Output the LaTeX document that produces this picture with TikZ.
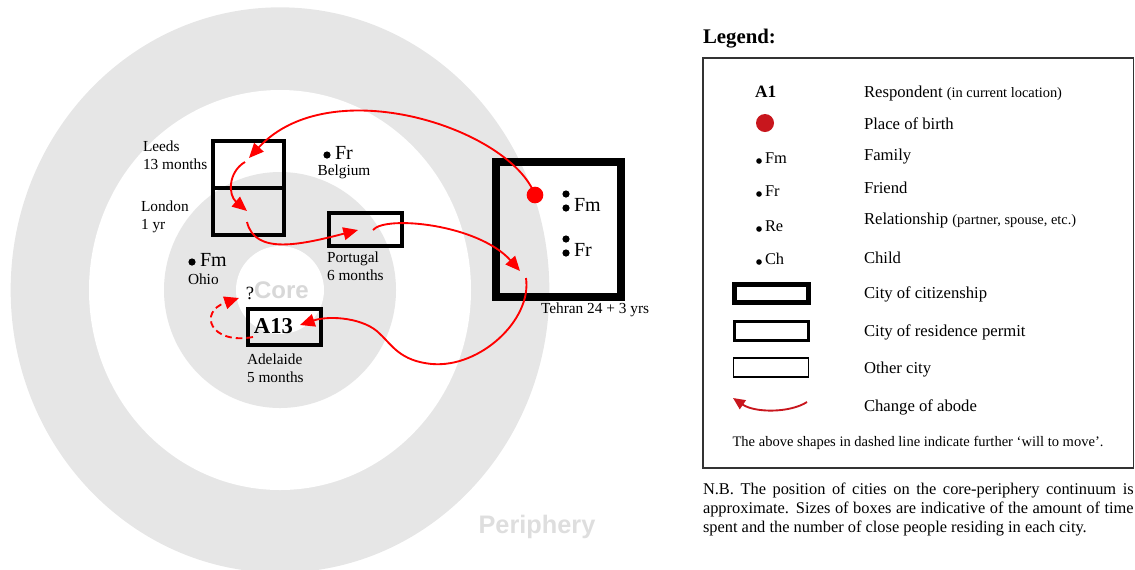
\documentclass[tikz,border=0pt]{standalone}
\usepackage{fontspec}
\setmainfont{Liberation Serif}
\newfontfamily\sansfam{Liberation Sans}
\usetikzlibrary{arrows.meta}
\definecolor{ringgray}{HTML}{E6E6E6}
\definecolor{coregray}{HTML}{D8D8D8}
\definecolor{perigray}{HTML}{DEDEDE}
\definecolor{legred}{HTML}{C8161D}
\definecolor{legframe}{HTML}{333333}
\newcommand{\fs}[2]{\fontsize{#1pt}{#2pt}\selectfont}
\begin{document}
\begin{tikzpicture}[x=0.75pt,y=-0.75pt,
  every node/.style={inner sep=0pt,outer sep=0pt},
  lbl/.style={font=\fs{11.5}{13.4},align=left,anchor=west},
  big/.style={font=\fs{15}{15},anchor=west},
  pdot/.style={circle,fill=black,minimum size=5.4pt},
  resbox/.style={draw=black,line width=2.7pt},
  citbox/.style={draw=black,line width=5.4pt},
  mv/.style={draw=red,line width=1.4pt,-{Triangle[length=11pt,width=9.5pt]}},
  legtxt/.style={font=\fs{12.5}{14},anchor=base west},
  legsym/.style={font=\fs{12.3}{13},anchor=base west},
  ldot/.style={circle,fill=black,minimum size=4.2pt}]
\useasboundingbox (0,0) rectangle (1135,569);
\clip (0,0) rectangle (1135,569);
% rings
\fill[ringgray] (280,290) ellipse [x radius=202pt,y radius=212pt];
\fill[white] (280,290) ellipse [x radius=143.25pt,y radius=150pt];
\fill[ringgray] (280,290) ellipse [x radius=87pt,y radius=88.5pt];
\fill[white] (280,290) ellipse [x radius=33pt,y radius=33pt];
\node[font=\sansfam\bfseries\fs{18}{18},text=coregray] (core) at (281.5,290) {Core};
\node[font=\sansfam\bfseries\fs{19}{19},text=perigray] (peri) at (537,527) {Periphery};
% city boxes
\node[resbox,minimum width=53.25pt,minimum height=35.25pt] (leeds) at (248.5,164.5) {};
\node[resbox,minimum width=53.25pt,minimum height=35.25pt] (london) at (248.5,211.5) {};
\node[resbox,minimum width=54.75pt,minimum height=24.75pt] (portugal) at (365.5,229.5) {};
\node[resbox,minimum width=54.75pt,minimum height=27pt] (adelaide) at (284.5,327) {};
\node[citbox,minimum width=93.75pt,minimum height=101.25pt] (tehran) at (558.5,229.5) {};
% labels
\node[lbl] (leedslbl) at (143,155) {Leeds\\13 months};
\node[lbl] (londonlbl) at (141,217) {London\\1 yr};
\node[lbl] (portlbl) at (327,266) {Portugal\\6 months};
\node[lbl] (adellbl) at (247,368) {Adelaide\\5 months};
\node[lbl] (tehlbl) at (541,310) {Tehran 24 + 3 yrs};
\node[font=\bfseries\fs{17}{17}] (a13) at (273.5,326) {A13};
\node[font=\fs{14}{14}] (qm) at (250,293) {?};
% people
\node[pdot] (befr) at (327,155) {};
\node[big] (befrt) at (335,153) {Fr};
\node[font=\fs{11.5}{12}] (belg) at (344,172) {Belgium};
\node[pdot] (ohfm) at (192,262) {};
\node[big] (ohfmt) at (200,260) {Fm};
\node[lbl] (ohio) at (188,279) {Ohio};
\node[pdot] (tfm1) at (566,194) {};
\node[pdot] (tfm2) at (566,208) {};
\node[big] (tfmt) at (574,205) {Fm};
\node[pdot] (tfr1) at (566,239) {};
\node[pdot] (tfr2) at (566,253) {};
\node[big] (tfrt) at (574,250) {Fr};
\node[circle,fill=red,minimum size=12.5pt] (birth) at (535,195) {};
% moves
\coordinate (leedsin) at (249,158);
\coordinate (leedsout) at (245,162);
\coordinate (londonin) at (247,211);
\coordinate (londonout) at (247,222);
\coordinate (portin) at (358,230);
\coordinate (portout) at (373,230);
\coordinate (tehin) at (520,271);
\coordinate (tehout) at (526,278);
\coordinate (adelin) at (300,325);
\coordinate (adelout) at (253,337);
\coordinate (qin) at (239,298);
\draw[mv] (birth.center) .. controls (510,128) and (330,70) .. (leedsin);
\draw[mv] (leedsout) .. controls (228,172) and (228,195) .. (londonin);
\draw[mv] (londonout) .. controls (255,255) and (300,245) .. (portin);
\draw[mv] (portout) .. controls (385,215) and (478,224) .. (tehin);
\draw[mv] (tehout) .. controls (532,320) and (480,368) .. (432,364)
   .. controls (400,361) and (392,345) .. (380,334)
   .. controls (365,318) and (330,315) .. (adelin);
\draw[mv,dashed,dash pattern=on 5pt off 3pt] (adelout) .. controls (210,345) and (198,312) .. (qin);
% legend
\node[font=\bfseries\fs{15.6}{16},anchor=west] (legtitle) at (703,39) {Legend:};
\node[draw=legframe,line width=1.4pt,minimum width=322.9pt,minimum height=307.5pt] (legbox) at (918.25,263) {};
\node[font=\bfseries\fs{13}{14},anchor=base west] (la1) at (755,97.5) {A1};
\node[legtxt] (lresp) at (864,97.5) {Respondent {\fs{10.8}{12}(in current location)}};
\node[circle,fill=legred,minimum size=13.5pt] (lbirth) at (765,123) {};
\node[legtxt] (lbirtht) at (864,129) {Place of birth};
\node[ldot] (lfmd) at (759,161) {};
\node[legsym] (lfm) at (765,163) {Fm};
\node[legtxt] (lfam) at (864,160) {Family};
\node[ldot] (lfrd) at (759,194) {};
\node[legsym] (lfr) at (765,196) {Fr};
\node[legtxt] (lfri) at (864,193) {Friend};
\node[ldot] (lred) at (759,229) {};
\node[legsym] (lre) at (765,231) {Re};
\node[legtxt] (lrel) at (864,224) {Relationship {\fs{10.8}{12}(partner, spouse, etc.)}};
\node[ldot] (lchd) at (759,262) {};
\node[legsym] (lch) at (765,264) {Ch};
\node[legtxt] (lchi) at (864,263) {Child};
\node[draw=black,line width=3.75pt,minimum width=55.5pt,minimum height=13.5pt] (lcit) at (771.5,293.5) {};
\node[legtxt] (lcitt) at (864,298) {City of citizenship};
\node[draw=black,line width=2.25pt,minimum width=55.5pt,minimum height=14.25pt] (lres) at (771.5,331) {};
\node[legtxt] (lrest) at (864,336) {City of residence permit};
\node[draw=black,line width=1.1pt,minimum width=56.25pt,minimum height=14.25pt] (loth) at (771,367.5) {};
\node[legtxt] (lotht) at (864,373) {Other city};
\coordinate (labs) at (807,402);
\coordinate (labe) at (733,398);
\draw[legred,line width=1.4pt,-{Triangle[length=9pt,width=8pt]}] (labs) .. controls (790,413) and (755,413) .. (labe);
\node[legtxt] (labode) at (864,411) {Change of abode};
\node[font=\fs{10.9}{12}] (ldash) at (918,443) {The above shapes in dashed line indicate further `will to move'.};
\node[font=\fs{12.3}{14.4},text width=323pt,align=justify,anchor=north west] (nb) at (703,483)
 {N.B. The position of cities on the core-periphery continuum is\linebreak approximate. Sizes of boxes are indicative of the amount of time\linebreak spent and the number of close people residing in each city.};
\end{tikzpicture}
\end{document}
